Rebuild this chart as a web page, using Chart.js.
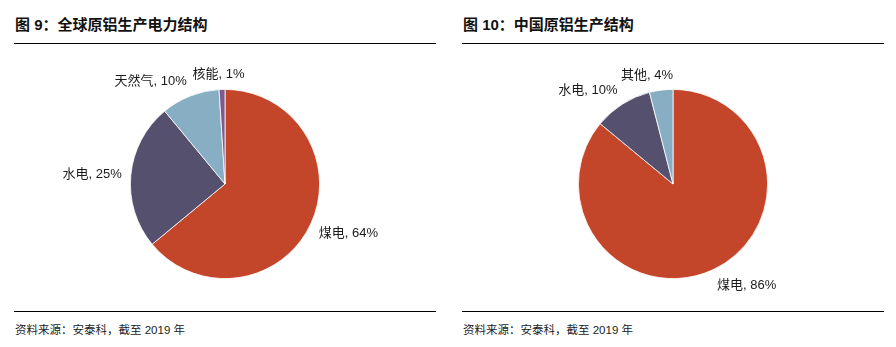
<!DOCTYPE html>
<html>
<head>
<meta charset="utf-8">
<script src="https://cdn.jsdelivr.net/npm/chart.js@4.4.0/dist/chart.umd.min.js"></script>
<style>
  html, body { margin: 0; padding: 0; background: #fff; }
  body { width: 896px; height: 347px; position: relative; overflow: hidden;
         font-family: "Liberation Sans", "Noto Sans CJK SC", sans-serif; color: #111; }
  .panel { position: absolute; top: 0; width: 422px; height: 347px; }
  .title { position: absolute; left: 1px; top: 13px; font-size: 15px; font-weight: bold; white-space: nowrap; }
  .rule { position: absolute; left: 0; width: 422px; height: 0; border-top: 1.4px solid #000; }
  .source { position: absolute; left: 1px; top: 321px; font-size: 11.5px; color: #222; white-space: nowrap; }
  .box { position: absolute; left: 0; top: 59px; width: 422px; height: 250px; }
</style>
</head>
<body>
<div class="panel" style="left:14px">
  <div class="title">图 9：全球原铝生产电力结构</div>
  <div class="rule" style="top:43px"></div>
  <div class="box"><canvas id="globalPie"></canvas></div>
  <div class="rule" style="top:311px"></div>
  <div class="source">资料来源：安泰科，截至 2019 年</div>
</div>
<div class="panel" style="left:462px">
  <div class="title">图 10：中国原铝生产结构</div>
  <div class="rule" style="top:43px"></div>
  <div class="box"><canvas id="chinaPie"></canvas></div>
  <div class="rule" style="top:311px"></div>
  <div class="source">资料来源：安泰科，截至 2019 年</div>
</div>
<script>
// global primary aluminium: power source shares (%)
const globalLabels = ['煤电', '水电', '天然气', '核能'];
const globalShares = [64, 25, 10, 1];
const globalColors = ['#C4462A', '#56506F', '#87AEC2', '#7E5A8E'];

// china primary aluminium: production structure (%)
const chinaLabels = ['煤电', '水电', '其他'];
const chinaShares = [86, 10, 4];
const chinaColors = ['#C4462A', '#56506F', '#87AEC2'];

const clamp = (v) => Math.max(-1, Math.min(1, v));

// draws "name, xx%" outside each slice: the label box hangs off a point
// just past the rim on the slice's mid angle, pinned by its nearest corner/edge
const outsideLabels = {
  id: 'outsideLabels',
  afterDatasetsDraw(chart) {
    const ctx = chart.ctx;
    const meta = chart.getDatasetMeta(0);
    const data = chart.data.datasets[0].data;
    ctx.save();
    ctx.font = '13px "Liberation Sans", "Noto Sans CJK SC", sans-serif';
    ctx.fillStyle = '#1a1a1a';
    ctx.textAlign = 'left';
    ctx.textBaseline = 'middle';
    meta.data.forEach((arc, i) => {
      const p = arc.getProps(['x', 'y', 'startAngle', 'endAngle', 'outerRadius'], true);
      const mid = (p.startAngle + p.endAngle) / 2;
      const r = p.outerRadius + 9;
      const ax = p.x + Math.cos(mid) * r;
      const ay = p.y + Math.sin(mid) * r;
      const text = chart.data.labels[i] + ', ' + data[i] + '%';
      const w = ctx.measureText(text).width;
      const h = 14;
      const fx = (1 - clamp(Math.cos(mid) * 4)) / 2;
      const fy = (1 - clamp(Math.sin(mid) * 1.3)) / 2;
      const left = ax - w * fx;
      const top = ay - h * fy;
      ctx.fillText(text, left, top + h / 2 + 1);
    });
    ctx.restore();
  }
};

function makePie(id, labels, values, colors) {
  return new Chart(document.getElementById(id), {
    type: 'pie',
    data: {
      labels: labels,
      datasets: [{
        data: values,
        backgroundColor: colors,
        borderColor: '#ffffff',
        borderWidth: 0.8
      }]
    },
    options: {
      responsive: true,
      maintainAspectRatio: false,
      animation: false,
      layout: { padding: { top: 30, bottom: 30 } },
      plugins: {
        legend: { display: false },
        tooltip: { enabled: false }
      }
    },
    plugins: [outsideLabels]
  });
}

makePie('globalPie', globalLabels, globalShares, globalColors);
makePie('chinaPie', chinaLabels, chinaShares, chinaColors);
</script>
</body>
</html>
